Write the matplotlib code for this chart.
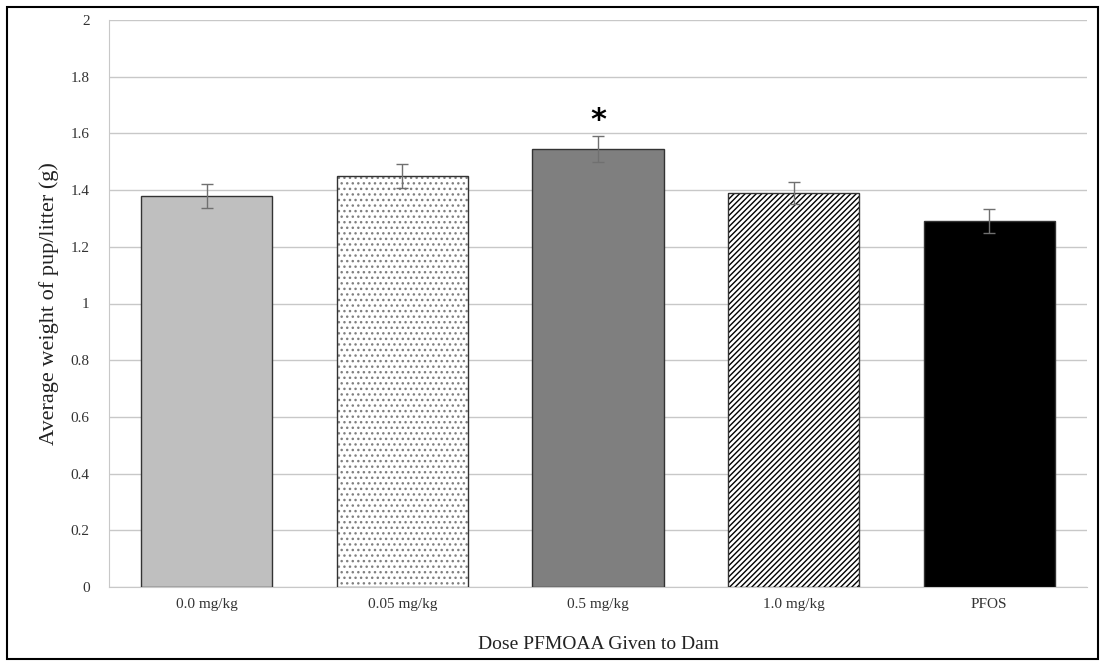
import matplotlib
matplotlib.use('Agg')
import matplotlib.pyplot as plt
from matplotlib.patches import Rectangle

doses = ['0.0 mg/kg', '0.05 mg/kg', '0.5 mg/kg', '1.0 mg/kg', 'PFOS']
weights = [1.38, 1.45, 1.545, 1.39, 1.29]
errors = [0.043, 0.043, 0.045, 0.04, 0.042]
colors = ['#bfbfbf', 'white', '#7f7f7f', 'white', 'black']
hatches = [None, '...', None, '//////', None]
hatch_colors = [None, '#808080', None, 'black', None]
significant = [False, False, True, False, False]

plt.rcParams['font.family'] = ['Liberation Serif', 'DejaVu Serif']
plt.rcParams['hatch.linewidth'] = 1.0

fig = plt.figure(figsize=(11.05, 6.66), dpi=100)
ax = fig.add_axes([109 / 1105, 1 - 587 / 666, (1087 - 109) / 1105, (587 - 20) / 666])

x = list(range(len(doses)))
for i in x:
    if hatches[i] is not None:
        # pattern first, then a plain outline on top
        ax.bar(i, weights[i], width=0.67, color=colors[i], edgecolor=hatch_colors[i],
               hatch=hatches[i], linewidth=0, zorder=3)
    ax.bar(i, weights[i], width=0.67, color=colors[i] if hatches[i] is None else 'none',
           edgecolor='#333333', linewidth=1.0, zorder=3)
ax.errorbar(x, weights, yerr=errors, fmt='none', ecolor='#707070',
            elinewidth=1, capsize=4, capthick=1, zorder=4)

for i in x:
    if significant[i]:
        ax.text(i, weights[i] + errors[i] + 0.055, '*', ha='center', va='center',
                fontsize=22, fontweight='bold', family='DejaVu Sans')

ax.set_ylim(0, 2)
ax.set_xlim(-0.5, len(doses) - 0.5)
ax.set_yticks([0, 0.2, 0.4, 0.6, 0.8, 1, 1.2, 1.4, 1.6, 1.8, 2])
ax.set_yticklabels(['0', '0.2', '0.4', '0.6', '0.8', '1', '1.2', '1.4', '1.6', '1.8', '2'])
ax.set_xticks(x)
ax.set_xticklabels(doses)
ax.tick_params(length=0, labelsize=11, colors='#333333', pad=8)
ax.tick_params(axis='y', pad=14)
ax.grid(axis='y', color='#c8c8c8', linewidth=1, zorder=0)
for s in ['top', 'right']:
    ax.spines[s].set_visible(False)
ax.spines['left'].set_color('#c8c8c8')
ax.spines['bottom'].set_color('#c8c8c8')

ax.set_ylabel('Average weight of pup/litter (g)', fontsize=16, labelpad=8, color='#222222')
ax.set_xlabel('Dose PFMOAA Given to Dam', fontsize=14, labelpad=18, color='#222222')

fig.patches.append(Rectangle((7 / 1105, 7 / 666), 1091 / 1105, 652 / 666,
                             transform=fig.transFigure, fill=False,
                             edgecolor='black', linewidth=1.5))

fig.savefig('out.png', dpi=100)
